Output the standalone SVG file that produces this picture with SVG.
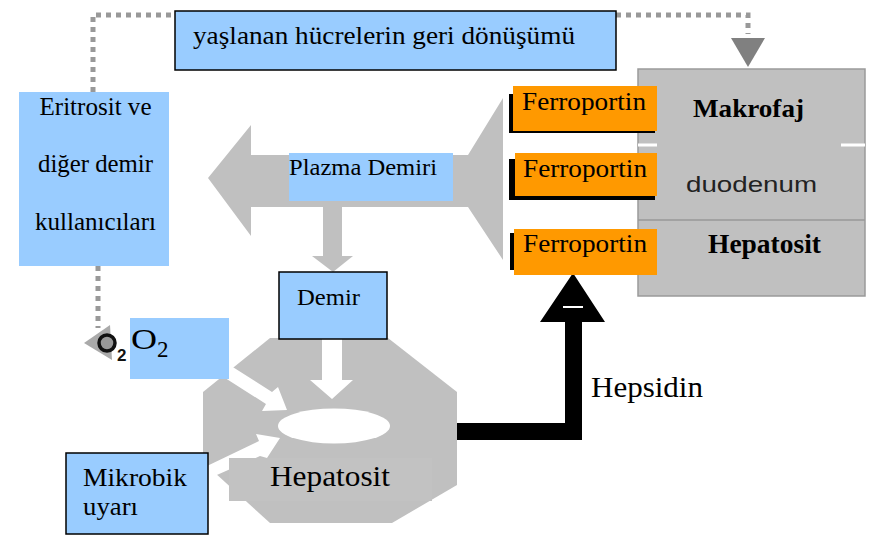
<svg xmlns="http://www.w3.org/2000/svg" width="878" height="546" viewBox="0 0 878 546">
<style>
.blue{fill:#99CCFF}
.stk{stroke:#000;stroke-width:1.5}
.orange{fill:#FF9900}
.gray{fill:#C0C0C0}
.serif{font-family:"Liberation Serif","Times New Roman",serif;fill:#000}
.bold{font-weight:bold}
.sans{font-family:"Liberation Sans",Arial,sans-serif}
.dot{fill:none;stroke:#999;stroke-width:5;stroke-dasharray:5 5}
</style>
<rect width="878" height="546" fill="#fff"/>
<g id="connectors">
  <path class="dot" d="M93,92 V15 H175"/>
  <path class="dot" d="M616,15 H748 V34"/>
  <polygon points="731,38 765,38 748,67" fill="#808080"/>
  <path class="dot" d="M98,266 V328"/>
  <polygon class="gray" points="208,178 251,125 251,155 468,155 503,98 503,260 468,207 342,207 342,256 353,256 333,272 312,256 323,256 323,207 251,207 251,236"/>
  <polygon points="455,423 565,423 565,322 540,322 573,273 605,322 582,322 582,440 455,440" fill="#000"/>
  <line x1="563" y1="307" x2="583" y2="307" stroke="#fff" stroke-width="2"/>
</g>
<g id="makrofaj-block">
  <rect x="638" y="69" width="227" height="227" fill="#C0C0C0" stroke="#9a9a9a" stroke-width="1.5"/>
  <line x1="638" y1="145" x2="865" y2="145" stroke="#fff" stroke-width="3"/>
  <rect x="657" y="140" width="184" height="10" fill="#C0C0C0"/>
  <line x1="638" y1="220" x2="865" y2="220" stroke="#999" stroke-width="1.5"/>
  <text class="serif bold" x="693" y="117" font-size="26" textLength="111" lengthAdjust="spacingAndGlyphs">Makrofaj</text>
  <text class="sans" x="686" y="192" font-size="22" fill="#222" textLength="131" lengthAdjust="spacingAndGlyphs">duodenum</text>
  <text class="serif bold" x="708" y="253" font-size="27" textLength="113" lengthAdjust="spacingAndGlyphs">Hepatosit</text>
</g>
<g id="ferroportin1">
  <rect x="509" y="94" width="146" height="39" fill="#000"/>
  <rect class="orange" x="513" y="86" width="144" height="45"/>
  <text class="serif" x="522" y="110" font-size="26" textLength="124" lengthAdjust="spacingAndGlyphs">Ferroportin</text>
</g>
<g id="ferroportin2">
  <rect x="509" y="159" width="146" height="41" fill="#000"/>
  <rect class="orange" x="515" y="153" width="142" height="43"/>
  <text class="serif" x="523" y="177" font-size="26" textLength="124" lengthAdjust="spacingAndGlyphs">Ferroportin</text>
</g>
<g id="ferroportin3">
  <rect x="510" y="233" width="5" height="37" fill="#000"/>
  <rect class="orange" x="514" y="229" width="143" height="46"/>
  <text class="serif" x="523" y="252" font-size="26" textLength="124" lengthAdjust="spacingAndGlyphs">Ferroportin</text>
</g>
<g id="recycle-label">
  <rect class="blue stk" x="175" y="11" width="441" height="59"/>
  <text class="serif" x="193" y="44" font-size="26" textLength="382" lengthAdjust="spacingAndGlyphs">yaşlanan hücrelerin geri dönüşümü</text>
</g>
<g id="eritrosit">
  <rect class="blue" x="19" y="92" width="150" height="174"/>
  <text class="serif" x="95.5" y="115" font-size="25" text-anchor="middle" textLength="112" lengthAdjust="spacingAndGlyphs">Eritrosit ve</text>
  <text class="serif" x="95.5" y="172" font-size="25" text-anchor="middle" textLength="115" lengthAdjust="spacingAndGlyphs">diğer demir</text>
  <text class="serif" x="95.5" y="230" font-size="25" text-anchor="middle" textLength="121" lengthAdjust="spacingAndGlyphs">kullanıcıları</text>
</g>
<g id="plazma">
  <rect class="blue" x="289" y="153" width="164" height="48"/>
  <text class="serif" x="289" y="175" font-size="24" textLength="148" lengthAdjust="spacingAndGlyphs">Plazma Demiri</text>
</g>
<g id="hepatosit-cell">
  <polygon class="gray" points="270,338 388,338 457,392 457,485 392,523 270,523 203,462 203,392"/>
  <polygon fill="#fff" points="322,338 342,338 342,380 353,380 332,399 310,380 322,380"/>
  <polygon fill="#fff" points="222,376 228,364 272,392 278,387 287,410 262,411 266,404"/>
  <polygon fill="#fff" points="207,466 210,478 260,456 267,458 280,438 256,434 259,441"/>
  <ellipse cx="334" cy="426" rx="56" ry="17.5" fill="#fff"/>
  <rect x="229" y="458" width="203" height="43" fill="#C2C2C2"/>
  <text class="serif" x="270" y="486" font-size="30" textLength="120" lengthAdjust="spacingAndGlyphs">Hepatosit</text>
</g>
<g id="demir">
  <rect class="blue stk" x="279" y="272" width="108" height="67"/>
  <text class="serif" x="297" y="305" font-size="24" textLength="63" lengthAdjust="spacingAndGlyphs">Demir</text>
</g>
<g id="o2-icon">
  <polygon points="84,343 110,325 112,360" fill="#aaa"/>
  <circle cx="107" cy="343" r="8" fill="#999" stroke="#111" stroke-width="3.5"/>
  <text class="sans bold" x="117" y="361" font-size="17" fill="#111">2</text>
</g>
<g id="o2">
  <rect class="blue" x="130" y="318" width="99" height="61"/>
  <text class="serif" x="131" y="349" font-size="30" textLength="26" lengthAdjust="spacingAndGlyphs">O</text>
  <text class="serif" x="157" y="357" font-size="23">2</text>
</g>
<g id="mikrobik">
  <rect class="blue stk" x="66" y="453" width="142" height="81"/>
  <text class="serif" x="83" y="486" font-size="26" textLength="104" lengthAdjust="spacingAndGlyphs">Mikrobik</text>
  <text class="serif" x="83" y="515" font-size="26" textLength="55" lengthAdjust="spacingAndGlyphs">uyarı</text>
</g>
<g id="hepsidin">
  <text class="serif" x="591" y="397" font-size="29" textLength="112" lengthAdjust="spacingAndGlyphs">Hepsidin</text>
</g>
</svg>
